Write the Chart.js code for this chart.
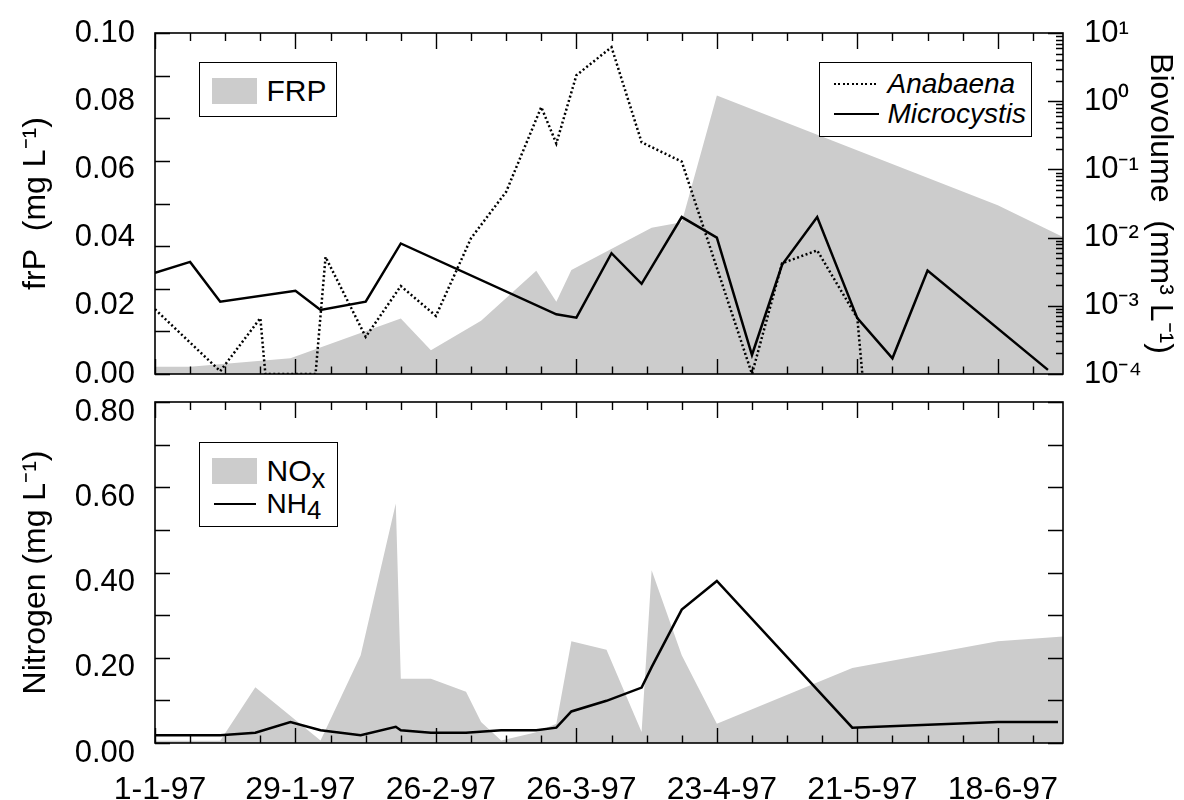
<!DOCTYPE html>
<html>
<head>
<meta charset="utf-8">
<script src="https://cdn.jsdelivr.net/npm/chart.js@4.4.1/dist/chart.umd.min.js"></script>
<style>
  html, body { margin: 0; padding: 0; background: #fff; }
  #wrap { position: relative; width: 1184px; height: 800px; font-family: "Liberation Sans", Arial, Helvetica, sans-serif; color: #000; }
  canvas { position: absolute; left: 0; }
  #cTop { top: 0; }
  #cBot { top: 388px; }
  .legend { position: absolute; border: 1.5px solid #000; background: #fff; box-sizing: border-box; z-index: 5; }
  .legend .swatch { position: absolute; background: #cccccc; }
  .legend .txt { position: absolute; white-space: nowrap; line-height: 1; }
  .legend .line { position: absolute; background: #000; }
  .legend .dots { position: absolute; background: repeating-linear-gradient(to right, #000 0 2px, transparent 2px 4.5px); }
  .legend sub { font-size: 0.92em; vertical-align: baseline; position: relative; top: 0.24em; }
</style>
</head>
<body>
<div id="wrap">
  <canvas id="cTop" width="1184" height="388"></canvas>
  <canvas id="cBot" width="1184" height="412"></canvas>

  <div class="legend" style="left:199px; top:62px; width:138px; height:55px;">
    <div class="swatch" style="left:11.5px; top:14.5px; width:45px; height:26px;"></div>
    <div class="txt" style="left:66.5px; top:13px; font-size:30px;">FRP</div>
  </div>

  <div class="legend" style="left:819px; top:62px; width:213px; height:75px;">
    <div class="dots" style="left:13.5px; top:19.5px; width:45px; height:2.5px;"></div>
    <div class="line" style="left:13.5px; top:49.5px; width:45px; height:2px;"></div>
    <div class="txt" style="left:67.5px; top:7px; font-size:28px; font-style:italic;">Anabaena</div>
    <div class="txt" style="left:67.5px; top:37px; font-size:28px; font-style:italic;">Microcystis</div>
  </div>

  <div class="legend" style="left:199px; top:442px; width:139px; height:85px;">
    <div class="swatch" style="left:11.5px; top:14.5px; width:45px; height:26px;"></div>
    <div class="txt" style="left:66.5px; top:13px; font-size:30px;">NO<sub>x</sub></div>
    <div class="line" style="left:13.5px; top:59.5px; width:42px; height:2px;"></div>
    <div class="txt" style="left:66.5px; top:47px; font-size:28px;">NH<sub>4</sub></div>
  </div>
</div>

<script>
// ---- Sampling dates: days counted from 1 January 1997 (day 0) ----
const xTickDays   = [0, 28, 56, 84, 112, 140, 168];
const xTickLabels = ['1-1-97', '29-1-97', '26-2-97', '26-3-97', '23-4-97', '21-5-97', '18-6-97'];

// Filterable reactive phosphorus (mg L-1)
const frpDays   = [0, 7, 27, 49, 55, 65, 76, 80, 83, 99, 105, 112, 168, 181];
const frpValues = [0.0021, 0.0021, 0.0046, 0.0163, 0.0070, 0.0156, 0.0303, 0.0212, 0.0305, 0.0429, 0.0445, 0.0817, 0.0495, 0.0402];

// Cyanobacterial biovolume (mm3 L-1)
const anabaenaDays   = [0, 13, 21, 22, 32, 34, 42, 49, 56, 63, 70, 77, 80, 84, 91, 97, 105, 119, 125, 132, 140, 141];
const anabaenaValues = [8.9e-4, 1.1e-4, 6.6e-4, 1e-4, 1e-4, 5.2e-3, 3.5e-4, 1.95e-3, 7.1e-4, 9.8e-3, 0.047, 0.82, 0.24, 2.4, 6.2, 0.25, 0.13, 1e-4, 4.2e-3, 6.5e-3, 6.6e-4, 1e-4];

const microcystisDays   = [0, 7, 13, 28, 33, 42, 49, 80, 84, 91, 97, 105, 112, 119, 125, 132, 140, 147, 154, 178];
const microcystisValues = [3.05e-3, 4.4e-3, 1.15e-3, 1.66e-3, 8.7e-4, 1.15e-3, 8.2e-3, 7.5e-4, 6.7e-4, 5.9e-3, 2.1e-3, 0.020, 0.010, 1.9e-4, 4.0e-3, 0.020, 6.6e-4, 1.7e-4, 3.3e-3, 1.15e-4];

// Nitrogen species (mg L-1)
const noxDays   = [0, 13, 20, 33, 41, 48, 49, 55, 62, 65, 69, 76, 80, 83, 90, 97, 99, 105, 112, 139, 168, 181];
const noxValues = [0.005, 0.005, 0.131, 0.006, 0.206, 0.562, 0.151, 0.151, 0.120, 0.049, 0.006, 0.025, 0.045, 0.239, 0.219, 0.026, 0.405, 0.206, 0.045, 0.176, 0.239, 0.250];

const nh4Days   = [0, 13, 20, 27, 33, 41, 48, 49, 55, 62, 69, 76, 80, 83, 90, 97, 99, 105, 112, 139, 168, 180];
const nh4Values = [0.018, 0.018, 0.024, 0.049, 0.030, 0.018, 0.038, 0.030, 0.024, 0.024, 0.030, 0.030, 0.036, 0.074, 0.099, 0.130, 0.178, 0.313, 0.380, 0.036, 0.049, 0.049];

// Axis tick labels
const logTickValues = [1e-4, 1e-3, 1e-2, 1e-1, 1e0, 1e1];
const logTickLabels = ['10\u207B\u2074', '10\u207B\u00B3', '10\u207B\u00B2', '10\u207B\u00B9', '10\u2070', '10\u00B9'];

// ---- helpers ----
const pts = (days, vals) => days.map((d, i) => ({ x: d, y: vals[i] }));
const weekMarks = [];
for (let d = 0; d <= 181; d += 7) weekMarks.push(d);
const frpMarks = Array.from({ length: 9 }, (_, i) => i * 0.1 / 8);
const nitrogenMarks = Array.from({ length: 9 }, (_, i) => i * 0.1);
const logMinorMarks = [];
for (let e = -4; e < 1; e++) for (let m = 2; m <= 9; m++) logMinorMarks.push(m * Math.pow(10, e));

Chart.defaults.font.family = '"Liberation Sans", Arial, Helvetica, sans-serif';
Chart.defaults.color = '#000';

// Frame and inward-pointing tick marks drawn from the chart's own scales
const frameTicks = {
  id: 'frameTicks',
  afterDraw(chart, args, o) {
    const { ctx, chartArea: a, scales } = chart;
    ctx.save();
    ctx.strokeStyle = '#000';
    ctx.lineWidth = 1.4;
    ctx.beginPath();
    for (const d of weekMarks) {
      const px = Math.round(scales.x.getPixelForValue(d)) + 0.5;
      const major = d % 28 === 0;
      ctx.moveTo(px, a.bottom); ctx.lineTo(px, a.bottom - (major ? 15 : 7.5));
      ctx.moveTo(px, a.top);    ctx.lineTo(px, a.top + (major ? 16 : 8));
    }
    for (const v of o.leftMarks) {
      const py = Math.round(scales.y.getPixelForValue(v)) + 0.5;
      ctx.moveTo(a.left, py); ctx.lineTo(a.left + 15, py);
    }
    if (o.rightScale) {
      const s = scales[o.rightScale];
      for (const v of o.rightMajor) {
        const py = Math.round(s.getPixelForValue(v)) + 0.5;
        ctx.moveTo(a.right, py); ctx.lineTo(a.right - 15, py);
      }
      for (const v of (o.rightMinor || [])) {
        const py = Math.round(s.getPixelForValue(v)) + 0.5;
        ctx.moveTo(a.right, py); ctx.lineTo(a.right - 7, py);
      }
    }
    ctx.stroke();
    ctx.lineWidth = 1.6;
    ctx.strokeRect(a.left, a.top, a.right - a.left, a.bottom - a.top);
    ctx.restore();
  }
};

const lineStyle = { borderColor: '#000', borderWidth: 2.5, pointRadius: 0, tension: 0, fill: false };
const areaStyle = { borderWidth: 0, borderColor: 'rgba(0,0,0,0)', backgroundColor: '#cccccc', pointRadius: 0, tension: 0, fill: 'origin' };

const xAxis = (height, showLabels) => ({
  type: 'linear', min: 0, max: 181,
  grid: { display: false, drawTicks: false }, border: { display: false },
  afterBuildTicks(s) { s.ticks = xTickDays.map(v => ({ value: v })); },
  ticks: {
    display: showLabels, autoSkip: false, maxRotation: 0, padding: 28, labelOffset: 5,
    font: { size: 32 }, color: '#000',
    callback: (v, i) => xTickLabels[i]
  },
  afterFit(s) { s.height = height; s.paddingLeft = 0; s.paddingRight = 0; }
});

// ---- upper panel: FRP and cyanobacteria ----
new Chart(document.getElementById('cTop'), {
  type: 'line',
  data: {
    datasets: [
      { label: 'Anabaena', data: pts(anabaenaDays, anabaenaValues), yAxisID: 'y1', ...lineStyle, borderDash: [2, 2.5] },
      { label: 'Microcystis', data: pts(microcystisDays, microcystisValues), yAxisID: 'y1', ...lineStyle },
      { label: 'FRP', data: pts(frpDays, frpValues), yAxisID: 'y', ...areaStyle }
    ]
  },
  options: {
    responsive: false, animation: false, devicePixelRatio: 1, events: [],
    layout: { padding: { top: 33, left: 0, right: 0, bottom: 0 } },
    plugins: {
      legend: { display: false }, tooltip: { enabled: false },
      frameTicks: { leftMarks: frpMarks, rightScale: 'y1', rightMajor: logTickValues, rightMinor: logMinorMarks }
    },
    scales: {
      x: xAxis(14, false),
      y: {
        type: 'linear', position: 'left', min: 0, max: 0.1,
        grid: { display: false, drawTicks: false }, border: { display: false },
        ticks: { stepSize: 0.02, padding: 20, font: { size: 31 }, color: '#000', callback: v => v.toFixed(2) },
        title: { display: true, text: 'frP  (mg L\u207B\u00B9)', font: { size: 32 }, color: '#000', padding: { top: 17, bottom: 0 } },
        afterFit(s) { s.width = 155; s.paddingTop = 0; s.paddingBottom = 0; }
      },
      y1: {
        type: 'logarithmic', position: 'right', min: 1e-4, max: 10,
        grid: { display: false, drawTicks: false }, border: { display: false },
        afterBuildTicks(s) { s.ticks = logTickValues.map(v => ({ value: v })); },
        ticks: { autoSkip: false, padding: 21, font: { size: 31 }, color: '#000', callback: (v, i) => logTickLabels[i] },
        title: { display: true, text: 'Biovolume  (mm\u00B3 L\u207B\u00B9)', font: { size: 32 }, color: '#000', padding: { top: 5, bottom: 0 } },
        afterFit(s) { s.width = 121; s.paddingTop = 0; s.paddingBottom = 0; }
      }
    }
  },
  plugins: [frameTicks]
});

// ---- lower panel: nitrogen ----
new Chart(document.getElementById('cBot'), {
  type: 'line',
  data: {
    datasets: [
      { label: 'NH4', data: pts(nh4Days, nh4Values), yAxisID: 'y', ...lineStyle },
      { label: 'NOx', data: pts(noxDays, noxValues), yAxisID: 'y', ...areaStyle }
    ]
  },
  options: {
    responsive: false, animation: false, devicePixelRatio: 1, events: [],
    layout: { padding: { top: 14, left: 0, right: 121, bottom: 0 } },
    plugins: {
      legend: { display: false }, tooltip: { enabled: false },
      frameTicks: { leftMarks: nitrogenMarks, rightScale: 'y', rightMajor: nitrogenMarks }
    },
    scales: {
      x: xAxis(57, true),
      y: {
        type: 'linear', position: 'left', min: 0, max: 0.8,
        grid: { display: false, drawTicks: false }, border: { display: false },
        ticks: { stepSize: 0.2, padding: 20, labelOffset: 10, font: { size: 31 }, color: '#000', callback: v => v.toFixed(2) },
        title: { display: true, text: 'Nitrogen (mg L\u207B\u00B9)', font: { size: 32 }, color: '#000', padding: { top: 17, bottom: 0 } },
        afterFit(s) { s.width = 155; s.paddingTop = 0; s.paddingBottom = 0; }
      }
    }
  },
  plugins: [frameTicks]
});
</script>
</body>
</html>
